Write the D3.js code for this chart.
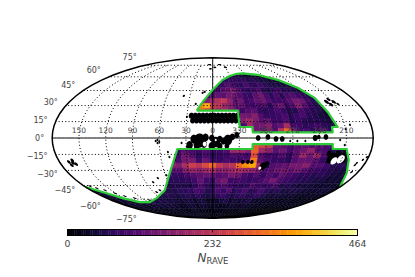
<!DOCTYPE html>
<html><head><meta charset="utf-8">
<script src="https://cdn.jsdelivr.net/npm/d3@7"></script>
<style>html,body{margin:0;padding:0;background:#fff}svg{display:block}text{font-family:"DejaVu Sans",sans-serif;fill:#444}</style>
</head><body><svg id="c" width="415" height="277"></svg>
<script>
// band edges in |b| (degrees)
const bandEdges=[4.56,9.13,13.73,18.36,23.04,27.78,32.6,37.5,42.6,47.8,53.2,58.8,64.9,71.4,78.9,90];
// north heat map: lon +24 .. -144, 7 deg step; rows from low to high b
const northLonStart=24,northLonStep=7;
const northValues=[
[60,60,60,60,60,60,60,60,60,60,140,120,170,110,230,310,150,90,100,70,90,110,70,50],
[60,60,60,60,60,60,60,130,100,200,140,150,170,110,130,210,100,90,70,80,100,70,60,50],
[60,60,60,60,60,60,60,100,170,190,160,120,130,90,90,110,70,90,70,60,70,60,50,40],
[60,60,60,60,60,60,60,90,150,140,170,110,80,80,90,100,70,90,100,70,70,50,40,30],
[210,310,270,220,190,210,160,130,90,110,120,80,70,80,100,80,60,60,100,80,70,60,40,30],
[170,340,380,240,230,190,170,130,130,100,90,100,110,70,120,140,90,110,170,120,90,70,50,30],
[120,120,160,190,220,240,180,120,140,90,100,130,140,110,90,90,100,120,150,140,100,70,50,30],
[80,80,90,110,130,120,150,140,110,90,80,120,150,100,70,100,70,100,110,90,80,60,40,30],
[60,60,70,70,90,120,130,160,110,90,70,90,110,70,60,80,100,70,70,60,50,40,30,20],
[50,50,50,50,70,80,110,100,80,70,100,80,70,90,70,60,60,50,50,40,30,20,20,10],
[40,40,40,40,50,60,70,90,80,70,80,60,70,60,50,50,40,40,30,30,20,20,20,10],
[30,30,30,30,30,40,50,60,50,60,50,40,40,40,30,30,30,20,20,20,20,20,20,10]
];
// south heat map: lon +60 .. -180, 8 deg step; rows from low to high |b|
const southLonStart=60,southLonStep=8;
const southValues=[
[0,0,0,0,0,0,0,0,0,0,0,0,0,290,260,240,130,120,100,110,120,100,120,100,100,70,60,40,0,0],
[90,90,90,120,100,90,110,90,90,110,190,190,170,300,200,170,120,140,100,120,140,180,110,100,60,50,40,30,0,0],
[100,100,90,140,110,70,100,70,80,90,110,110,90,270,110,90,90,110,80,120,190,140,190,110,70,20,20,40,0,0],
[110,110,100,150,150,90,130,90,80,100,90,90,110,330,120,100,80,80,70,110,130,130,120,80,40,10,10,50,0,0],
[170,170,160,210,250,230,270,310,240,210,230,310,350,370,200,40,110,120,130,150,150,170,120,110,90,60,70,60,0,0],
[120,120,120,170,190,170,190,210,170,170,190,210,190,180,150,110,120,140,150,130,150,120,100,90,80,70,60,50,40,30],
[80,80,80,100,110,120,130,120,110,120,150,140,100,90,110,80,110,90,130,100,90,70,80,60,70,60,50,40,40,30],
[70,70,70,80,90,130,90,80,130,150,90,100,90,80,90,100,120,150,110,90,80,70,70,60,50,50,40,40,40,30],
[60,60,60,60,80,110,80,60,100,110,90,80,70,80,110,90,80,90,110,60,70,60,50,50,50,40,40,40,40,30],
[60,70,70,80,100,90,60,70,100,80,110,70,80,100,70,80,100,70,60,70,50,50,60,50,40,40,40,40,40,30],
[50,60,70,60,80,60,50,60,70,90,70,60,70,80,60,70,80,60,50,40,50,40,40,40,30,30,30,30,30,20],
[40,50,50,40,50,50,30,30,40,50,60,40,50,40,50,60,40,30,40,30,30,30,30,30,30,20,20,20,20,20],
[30,40,40,30,40,40,30,30,30,20,30,30,40,30,30,40,30,30,30,20,30,20,20,20,20,20,20,20,20,20],
[20,30,30,20,30,20,20,20,20,20,20,30,20,20,20,20,20,20,20,10,10,10,10,10,10,10,10,10,10,10],
[20,20,20,10,20,20,10,10,10,20,20,10,10,10,10,10,10,10,10,10,10,10,10,10,10,10,10,10,10,10]
];
// south-west wing: lon 180 .. 60, 12 deg step, rows start at band 8
const wingLonStart=180,wingLonStep=12,wingBandStart=8;
const wingValues=[
[30,40,40,40,50,50,50,60,60,60],
[40,50,40,50,60,50,50,60,60,60],
[40,50,60,50,60,60,60,50,60,60],
[30,40,50,60,50,60,50,60,50,50],
[20,30,40,30,40,50,40,50,40,30],
[10,20,30,20,30,20,30,30,30,20],
[10,10,20,10,20,10,20,20,20,20]
];
// footprint boundary [l, b]
const northBoundary=[[19,25.2],[12.6,33.6],[0,45.7],[-16.3,56.5],[-30,61],[-44.9,63.6],[-56.8,64.2],[-81.9,62.4],[-105.8,56.5],[-122,47.8],[-132.1,37.5],[-136.4,24],[-141.5,10],[-135,10],[-135,5.2],[-45,5.2],[-45,10],[-30.6,10],[-30,25.2],[19,25.2]];
const southBoundary=[[180,-46.5],[163.7,-53.2],[152.7,-58.8],[136.5,-63.6],[117.8,-63.6],[95,-58.8],[70.8,-50],[53.6,-32.6],[40,-10],[-45,-10],[-45,-5.5],[-135,-5.5],[-135.9,-10],[-151.7,-10],[-158.6,-20.2],[-167.1,-32.6],[-180,-46.5]];
// low-count patches drawn black: l, b, angular radius
const blobLon=[25,20.5,16,11.5,7,2.5,-2,-6.5,-11,-15.5,-20,-24.5,-29, 23,18.5,14,9.5,5,0.5,-4,-8.5,-13,-17.5,-22,-26.5,
 14.7,21,8,18,10,-3.4,-8,1,-17,-22,-12,-27,26,18,1,-8,-16,
 -51,-62,-71,-78,-115,-119,-127,
 -137.8,-133,-143,-60,-64,-35.4,-41.3,-46,
 -143,-146,-152,-148,-155, 169,165,162,168,164];
const blobLat=[20.5,20.5,20.5,20.5,20.5,20.5,20.5,20.5,20.5,20.5,20.5,20.5,20.5, 16,16,16,16,16,16,16,16,16,16,16,16,
 -2.3,-1,0.5,-6,-5.5,-3.7,-1,0,-1.8,1,-3,2.7,-6.4,-8.2,-7.3,-7.3,-7.3,
 0,0.9,-0.9,-0.9,0,1,0.9,
 -18.4,-14,-14,-25.9,-23,-22,-22,-22,
 33.6,31,33.6,36,31.5, -22,-23,-24,-25,-20.5];
const blobRad=[2.8,2.8,2.8,2.8,2.8,2.8,2.8,2.8,2.8,2.8,2.8,2.8,2.8, 2.8,2.8,2.8,2.8,2.8,2.8,2.8,2.8,2.8,2.8,2.8,2.8,
 6.4,4,3.5,3.5,3.5,4.8,3,3,4.8,3,3,2.8,3.6,3,3.6,3,2.6,
 2.6,2.6,2.6,2.6,2.8,2,2.6,
 5,2.5,2.5,3.6,2,1.9,1.9,1.9,
 2,1.8,1.8,1.6,1.3, 1.7,1.7,1.7,1.7,1.7];
const speckLon=[38,30,13.6,11,9,5,21,-5,-19,-30,62,64,62,60,35,29,51,50,44,71,80,58.6,85,78,172,166.6,159,151,143,132,112,-178,-175,-170,-169.4,-172,-148.6,-143,-87,-95,-104,-150,-156];
const speckLat=[39.5,19.3,42.6,43.6,76,70,31.6,72,76,72,-4.6,-2.7,-1.8,-3.4,-4.5,-8,-12.8,-17.4,-20,-37.5,-41.6,-34.6,-52,-50,-45.7,-47.8,-50,-53.2,-56.5,-58.8,-61.2,-17.5,-20,-23,-24.9,-31.6,-6.4,-1.8,-2.7,-2.7,-2.7,8,12];
// empty pixels inside the footprint
const holeLon=[9,-3.4,-142,-149,-57];
const holeLat=[-5.5,-1.8,-21,-19.5,-27.8];
const holeRad=[2.2,1.1,3.4,3.9,1.5];
// axes
const lonTicks=[150,120,90,60,30,0,330,300,270,240,210];
const latTicks=[75,60,45,30,15,0,-15,-30,-45,-60,-75];
const colorTicks=[0,232,464];
const colorMax=464;
const legendSteps=128;

function mollweideRaw(l,p){
  let t=p;
  const k=Math.PI*Math.sin(p);
  if(Math.abs(Math.abs(p)-Math.PI/2)<1e-9){t=p;}
  else for(let i=0;i<40;i++){const d=(t+Math.sin(t)*Math.cos(t))*2-k;const dd=2+2*Math.cos(2*t);if(Math.abs(dd)<1e-9)break;const s=d/dd;t-=s;if(Math.abs(s)<1e-9)break;}
  return [2*Math.SQRT2/Math.PI*l*Math.cos(t),Math.SQRT2*Math.sin(t)];
}
const proj=d3.geoProjection(mollweideRaw).scale(56.75).translate([212.7,138]).reflectX(true).precision(0.2);
const geo=d3.geoPath(proj);
const color=d3.scaleSequential(d3.interpolateInferno).domain([0,colorMax]);
const line=d3.line();
const svg=d3.select("#c");
const defs=svg.append("defs");

// clip = footprint
const latSide=d3.range(-50,-90,-4).concat([-90]);
const southClosed=southBoundary.concat(latSide.map(b=>[-180,b])).concat(latSide.slice().reverse().map(b=>[180,b]));
const clip=defs.append("clipPath").attr("id","fp");
clip.append("path").attr("d",line(northBoundary.map(p=>proj(p)))+"Z");
clip.append("path").attr("d",line(southClosed.map(p=>proj(p)))+"Z");

function cellPath(l0,l1,bA,bB){
  const s=d3.range(0,1.001,0.25).map(f=>bA+(bB-bA)*f);
  const pts=s.map(b=>[l0,b]).concat(s.slice().reverse().map(b=>[l1,b]));
  return line(pts.map(p=>proj(p)))+"Z";
}
function addGrid(g,rows,lonStart,lonStep,bandStart,sign){
  rows.forEach((row,i)=>{
    const bA=sign*bandEdges[i+bandStart],bB=sign*bandEdges[i+bandStart+1];
    g.selectAll(null).data(row).enter().append("path")
      .attr("d",(v,j)=>cellPath(lonStart-lonStep*j,lonStart-lonStep*(j+1),bA,bB))
      .attr("fill",v=>color(v)).attr("stroke",v=>color(v)).attr("stroke-width",0.4);
  });
}
const heat=svg.append("g").attr("clip-path","url(#fp)");
addGrid(heat,northValues,northLonStart,northLonStep,0,1);
addGrid(heat,southValues,southLonStart,southLonStep,0,-1);
addGrid(heat,wingValues,wingLonStart,wingLonStep,wingBandStart,-1);

const circle=d3.geoCircle();
function discs(lon,lat,rad,fill){
  svg.append("g").selectAll("path").data(lon).enter().append("path")
    .attr("d",(l,i)=>geo(circle.center([l,lat[i]]).radius(rad[i])()))
    .attr("fill",fill);
}
discs(blobLon,blobLat,blobRad,color(0));
discs(speckLon,speckLat,speckLon.map(()=>1.1),color(0));
discs(holeLon,holeLat,holeRad,"#fff");

// graticule
const grat=svg.append("g").attr("fill","none").attr("stroke","#000");
const lonLine=l=>({type:"LineString",coordinates:d3.range(-75,75.1,5).map(b=>[l,b])});
const latLine=b=>({type:"LineString",coordinates:d3.range(-180,180.1,5).map(l=>[l===180?179.99:l===-180?-179.99:l,b])});
lonTicks.filter(l=>l!==0).forEach(l=>grat.append("path").attr("d",geo(lonLine(l>180?l-360:l))).attr("stroke-width",1).attr("stroke-dasharray","1 2.3"));
latTicks.filter(b=>b!==0).forEach(b=>grat.append("path").attr("d",geo(latLine(b))).attr("stroke-width",1).attr("stroke-dasharray","1 2.3"));
grat.append("path").attr("d",geo({type:"LineString",coordinates:d3.range(-90,90.1,5).map(b=>[0,b])})).attr("stroke-width",1);
grat.append("path").attr("d",geo(latLine(0))).attr("stroke-width",1);

// footprint outline
const green=svg.append("g").attr("fill","none").attr("stroke","#2dcb37").attr("stroke-width",2.2).attr("stroke-linejoin","round");
green.append("path").attr("d",line(northBoundary.map(p=>proj(p))));
green.append("path").attr("d",line(southBoundary.map(p=>proj(p))));

// outline
svg.append("path").attr("d",geo({type:"Sphere"})).attr("fill","none").attr("stroke","#000").attr("stroke-width",1.5);

// tick labels
lonTicks.forEach(l=>{
  const p=proj([l>180?l-360:l,0]);
  svg.append("text").attr("x",p[0]).attr("y",p[1]-5).attr("text-anchor","middle").attr("font-size",7.5).text(l);
});
latTicks.forEach(b=>{
  const p=proj([180,b]);
  svg.append("text").attr("x",p[0]-8).attr("y",p[1]-b*0.11+2.8).attr("text-anchor","end").attr("font-size",8).text((b<0?"\u2212":"")+Math.abs(b)+"\u00b0");
});

// colour bar
const bx=d3.scaleLinear().domain([0,colorMax]).range([67.5,357.5]);
const bar=svg.append("g");
d3.range(legendSteps).forEach(i=>{
  const v0=i/legendSteps*colorMax,v1=(i+1)/legendSteps*colorMax;
  bar.append("rect").attr("x",bx(v0)).attr("y",229.5).attr("width",bx(v1)-bx(v0)+0.3).attr("height",6).attr("fill",color((v0+v1)/2));
});
bar.append("rect").attr("x",67.5).attr("y",229.5).attr("width",290).attr("height",6).attr("fill","none").attr("stroke","#000").attr("stroke-width",1);
bar.append("line").attr("x1",bx(232)).attr("x2",bx(232)).attr("y1",229.5).attr("y2",232.5).attr("stroke","#000").attr("stroke-width",0.8);
colorTicks.forEach(v=>svg.append("text").attr("x",bx(v)).attr("y",247.3).attr("text-anchor","middle").attr("font-size",9.3).text(v));
const t=svg.append("text").attr("x",213).attr("y",262).attr("text-anchor","middle");
t.append("tspan").attr("font-size",12).attr("font-style","italic").text("N");
t.append("tspan").attr("font-size",8.5).attr("dy",1.8).text("RAVE");
</script></body></html>
